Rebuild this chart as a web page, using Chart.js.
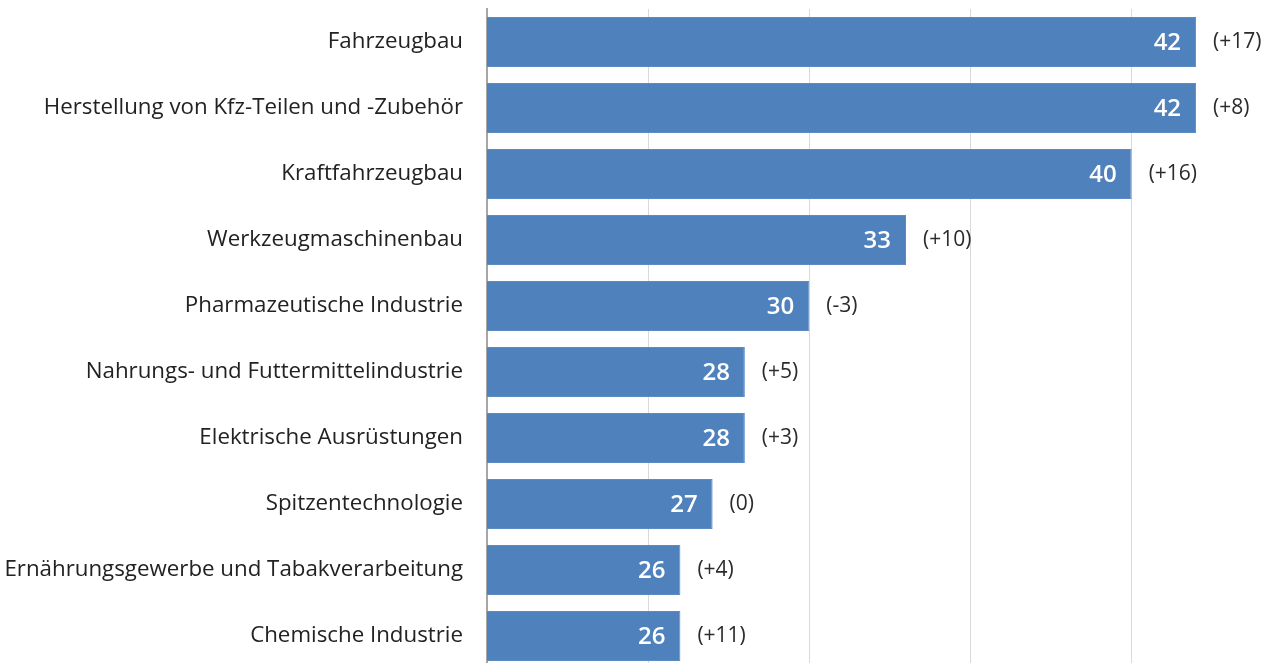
<!DOCTYPE html>
<html>
<head>
<meta charset="utf-8">
<script src="https://cdn.jsdelivr.net/npm/chart.js@4.4.1/dist/chart.umd.min.js"></script>
<style>
  html, body { margin: 0; padding: 0; background: #fff; overflow: hidden; }
  #wrap { width: 1267px; height: 669px; position: relative; }
</style>
</head>
<body>
<div id="wrap"><canvas id="barChart"></canvas></div>
<script>
const categories = [
  "Fahrzeugbau",
  "Herstellung von Kfz-Teilen und -Zubehör",
  "Kraftfahrzeugbau",
  "Werkzeugmaschinenbau",
  "Pharmazeutische Industrie",
  "Nahrungs- und Futtermittelindustrie",
  "Elektrische Ausrüstungen",
  "Spitzentechnologie",
  "Ernährungsgewerbe und Tabakverarbeitung",
  "Chemische Industrie"
];
const values = [42, 42, 40, 33, 30, 28, 28, 27, 26, 26];
const changes = ["(+17)", "(+8)", "(+16)", "(+10)", "(-3)", "(+5)", "(+3)", "(0)", "(+4)", "(+11)"];
const gridTicks = [20, 25, 30, 35, 40];

const FONT = "'Open Sans', 'Noto Sans', sans-serif";

// draws the value inside the bar and the change next to it
const barLabels = {
  id: "barLabels",
  afterDatasetsDraw(chart) {
    const { ctx } = chart;
    const meta = chart.getDatasetMeta(0);
    ctx.save();
    ctx.textBaseline = "middle";
    meta.data.forEach((bar, i) => {
      ctx.font = `600 24px ${FONT}`;
      ctx.fillStyle = "#ffffff";
      ctx.textAlign = "right";
      ctx.fillText(String(values[i]), bar.x - 15, bar.y + 1);
      ctx.font = `21px ${FONT}`;
      ctx.fillStyle = "#2b2b2b";
      ctx.textAlign = "left";
      ctx.fillText(changes[i], bar.x + 17, bar.y);
    });
    ctx.restore();
  }
};

new Chart(document.getElementById("barChart"), {
  type: "bar",
  data: {
    labels: categories,
    datasets: [{
      data: values,
      backgroundColor: "#4f81bd",
      borderColor: "#5b8cc6",
      borderWidth: { top: 1, bottom: 1, left: 0, right: 1 },
      barPercentage: 0.76,
      categoryPercentage: 1
    }]
  },
  options: {
    indexAxis: "y",
    responsive: true,
    maintainAspectRatio: false,
    animation: false,
    layout: { padding: { top: 9, right: 0, bottom: 0, left: 0 } },
    plugins: {
      legend: { display: false },
      tooltip: { enabled: false }
    },
    scales: {
      x: {
        min: 20,
        max: 44.2,
        afterBuildTicks: s => { s.ticks = gridTicks.map(v => ({ value: v })); },
        afterFit: s => { s.height = 0; s.paddingLeft = 0; s.paddingRight = 0; },
        ticks: { display: false },
        border: { display: false },
        grid: { color: "#d9d9d9", lineWidth: 1, drawTicks: false }
      },
      y: {
        afterFit: s => { s.width = 487; s.paddingTop = 0; s.paddingBottom = 0; },
        ticks: {
          color: "#222222",
          padding: 24,
          font: { family: FONT, size: 22.3 }
        },
        grid: { display: false, drawTicks: false },
        border: { display: true, color: "#a6a6a6", width: 2 }
      }
    }
  },
  plugins: [barLabels]
});
</script>
</body>
</html>
